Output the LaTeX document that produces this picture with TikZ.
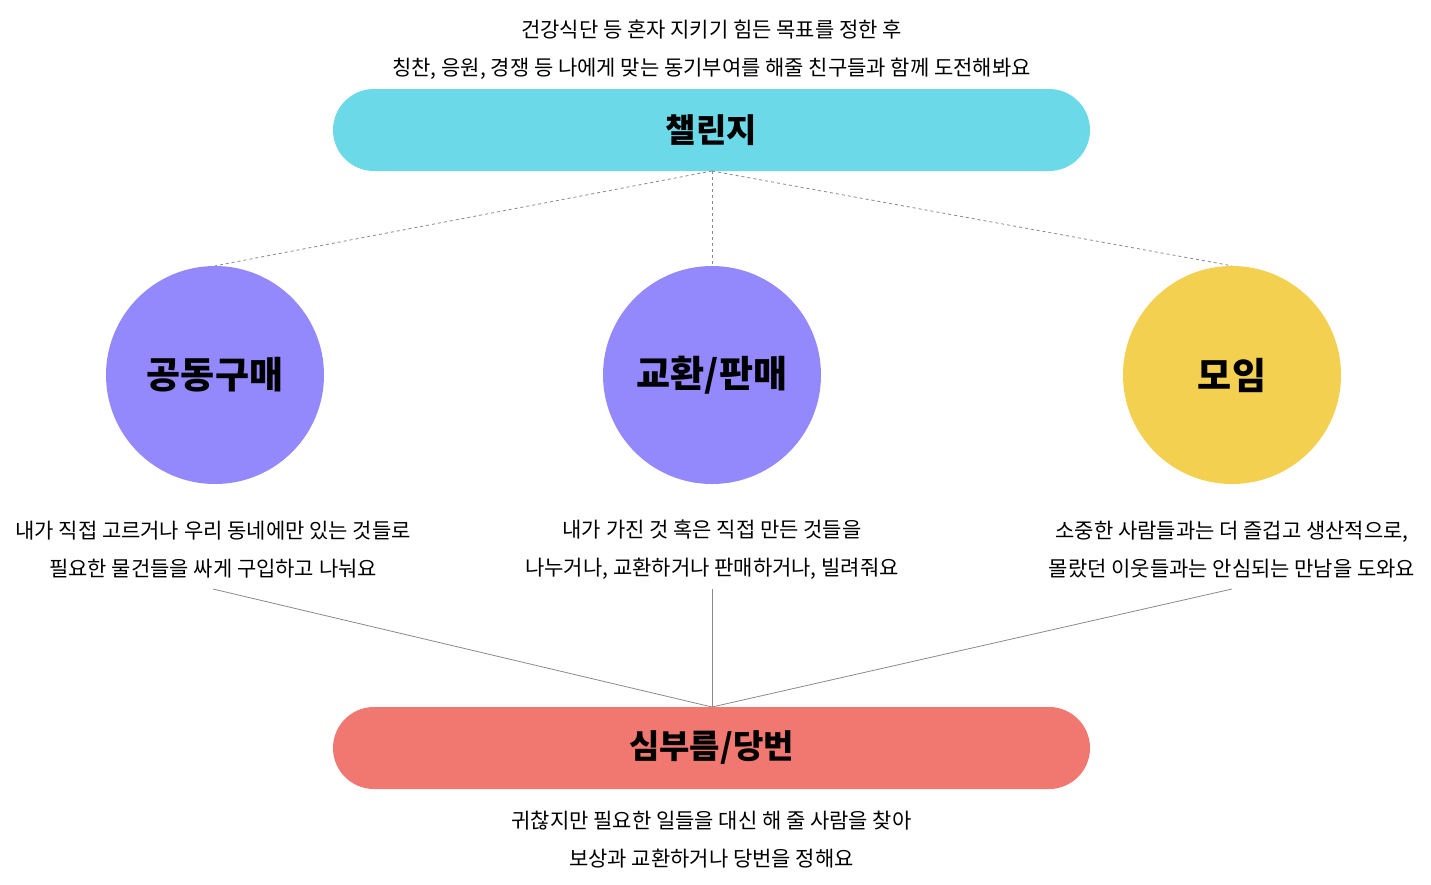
\documentclass[tikz,border=0pt]{standalone}
\usepackage{fontspec}
\setmainfont{Noto Sans CJK KR}
\definecolor{cyanc}{HTML}{6CD9E9}
\definecolor{purplec}{HTML}{9488FD}
\definecolor{yellowc}{HTML}{F3D050}
\definecolor{redc}{HTML}{F07870}
\definecolor{linec}{HTML}{8A8A8A}
\begin{document}
\begin{tikzpicture}[x=1pt,y=-1pt,
  pill/.style={rounded corners=41pt, minimum width=757pt, minimum height=82pt, inner sep=0pt, font=\fontsize{33}{33}\selectfont\bfseries},
  circ/.style={circle, minimum size=218pt, inner sep=0pt, font=\fontsize{37}{37}\selectfont\bfseries},
  desc/.style={align=center, font=\fontsize{21}{38}\selectfont, inner sep=0pt},
  dline/.style={draw=linec, dashed, line width=0.8pt},
  sline/.style={draw=linec, line width=0.8pt}]
\useasboundingbox[fill=white] (0,0) rectangle (1431,884);
\node[pill, fill=cyanc] (ch) at (711.5,130) {챌린지};
\node[pill, fill=redc] (er) at (711.5,748) {심부름/당번};
\node[circ, fill=purplec] (gb) at (215,375) {공동구매};
\node[circ, fill=purplec] (ex) at (712,375) {교환/판매};
\node[circ, fill=yellowc] (mt) at (1232,375) {모임};
\node[desc] (tchal) at (711.5,50) {건강식단 등 혼자 지키기 힘든 목표를 정한 후\\칭찬, 응원, 경쟁 등 나에게 맞는 동기부여를 해줄 친구들과 함께 도전해봐요};
\node[desc] (tgb) at (213,550) {내가 직접 고르거나 우리 동네에만 있는 것들로\\필요한 물건들을 싸게 구입하고 나눠요};
\node[desc] (tex) at (712,550) {내가 가진 것 혹은 직접 만든 것들을\\나누거나, 교환하거나 판매하거나, 빌려줘요};
\node[desc] (tmt) at (1232,550) {소중한 사람들과는 더 즐겁고 생산적으로,\\몰랐던 이웃들과는 안심되는 만남을 도와요};
\node[desc] (ter) at (711.5,840) {귀찮지만 필요한 일들을 대신 해 줄 사람을 찾아\\보상과 교환하거나 당번을 정해요};
\coordinate (chb) at (712,171);
\coordinate (erb) at (712,707);
\coordinate (gbd) at (213,589);
\coordinate (exd) at (712,589);
\coordinate (mtd) at (1232,589);
\draw[dline] (chb) -- (gb.north);
\draw[dline] (chb) -- (ex.north);
\draw[dline] (chb) -- (mt.north);
\draw[sline] (gbd) -- (erb);
\draw[sline] (exd) -- (erb);
\draw[sline] (mtd) -- (erb);
\end{tikzpicture}
\end{document}
